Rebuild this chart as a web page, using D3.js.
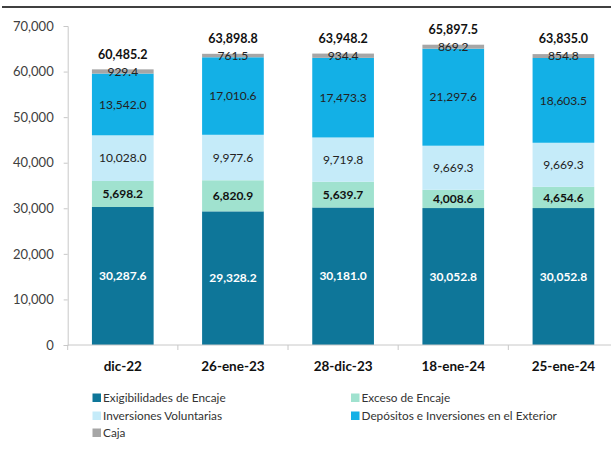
<!DOCTYPE html>
<html>
<head>
<meta charset="utf-8">
<script src="https://cdn.jsdelivr.net/npm/d3@7"></script>
<style>
  html, body { margin: 0; padding: 0; background: #fff; }
  svg { display: block; font-family: Lato, "Open Sans", sans-serif; }
</style>
</head>
<body>
<div id="chart"></div>
<script>
var categories = ['dic-22', '26-ene-23', '28-dic-23', '18-ene-24', '25-ene-24'];
var seriesNames = ['Exigibilidades de Encaje', 'Exceso de Encaje', 'Inversiones Voluntarias',
  'Depósitos e Inversiones en el Exterior', 'Caja'];
var exigibilidades = [30287.6, 29328.2, 30181.0, 30052.8, 30052.8];
var exceso = [5698.2, 6820.9, 5639.7, 4008.6, 4654.6];
var inversiones = [10028.0, 9977.6, 9719.8, 9669.3, 9669.3];
var depositos = [13542.0, 17010.6, 17473.3, 21297.6, 18603.5];
var caja = [929.4, 761.5, 934.4, 869.2, 854.8];
var totals = [60485.2, 63898.8, 63948.2, 65897.5, 63835.0];
var yTicks = [0, 10000, 20000, 30000, 40000, 50000, 60000, 70000];

var colors = ['#0E7699', '#A0E2CF', '#C5EBF9', '#13B0E6', '#A6A6A6'];
var labelFill = ['#fff', '#111', '#222', '#222', '#222'];
var labelWeight = ['bold', 'bold', 'normal', 'normal', 'normal'];

var W = 611, H = 460;
var svg = d3.select('#chart').append('svg').attr('width', W).attr('height', H);

// top rule
svg.append('line').attr('x1', 2).attr('x2', W).attr('y1', 7).attr('y2', 7)
  .attr('stroke', '#000').attr('stroke-width', 1.5);

var x = d3.scaleBand().domain(categories).range([67.7, 618.5]).paddingInner(0.44).paddingOuter(0.22);
var y = d3.scaleLinear().domain([0, 70000]).range([345, 26]);

var rows = categories.map(function (c, i) {
  return { cat: c, s0: exigibilidades[i], s1: exceso[i], s2: inversiones[i], s3: depositos[i], s4: caja[i] };
});
var stack = d3.stack().keys(['s0', 's1', 's2', 's3', 's4'])(rows);

var fmt = d3.format(',.1f');

// y axis
var yAxis = svg.append('g').attr('transform', 'translate(67.7,0)')
  .call(d3.axisLeft(y).tickValues(yTicks).tickSize(4).tickPadding(10).tickFormat(d3.format(',')));
yAxis.select('.domain').attr('stroke', '#C8C8C8');
yAxis.selectAll('.tick line').attr('stroke', '#C8C8C8');
yAxis.selectAll('.tick text').attr('font-size', 13).attr('fill', '#404040')
  .attr('font-family', 'Lato, sans-serif');

// bars
stack.forEach(function (layer, k) {
  var g = svg.append('g');
  g.selectAll('rect').data(layer).join('rect')
    .attr('x', function (d) { return x(d.data.cat); })
    .attr('width', x.bandwidth())
    .attr('y', function (d) { return y(d[1]); })
    .attr('height', function (d) { return y(d[0]) - y(d[1]); })
    .attr('fill', colors[k]);
  g.selectAll('text').data(layer).join('text')
    .attr('x', function (d) { return x(d.data.cat) + x.bandwidth() / 2; })
    .attr('y', function (d) { return (y(d[0]) + y(d[1])) / 2; })
    .attr('dy', '0.35em')
    .attr('text-anchor', 'middle')
    .attr('font-size', 12)
    .attr('font-weight', labelWeight[k])
    .attr('fill', labelFill[k])
    .text(function (d) { return fmt(d[1] - d[0]); });
});

// totals
svg.append('g').selectAll('text').data(categories).join('text')
  .attr('x', function (d) { return x(d) + x.bandwidth() / 2; })
  .attr('y', function (d, i) { return y(totals[i]) - 15; })
  .attr('dy', '0.35em')
  .attr('text-anchor', 'middle')
  .attr('font-size', 12.5)
  .attr('font-weight', 'bold')
  .attr('fill', '#111')
  .text(function (d, i) { return fmt(totals[i]); });

// x axis
var xAxis = svg.append('g').attr('transform', 'translate(0,345)');
xAxis.append('line').attr('x1', 67.7).attr('x2', W).attr('stroke', '#C8C8C8');
var edges = categories.map(function (c) { return x(c) - x.step() * x.paddingInner() / 2; });
xAxis.selectAll('.edge').data(edges).join('line')
  .attr('x1', function (d) { return d; }).attr('x2', function (d) { return d; })
  .attr('y1', 0).attr('y2', 5).attr('stroke', '#C8C8C8');
xAxis.selectAll('text').data(categories).join('text')
  .attr('x', function (d) { return x(d) + x.bandwidth() / 2; })
  .attr('y', 21)
  .attr('dy', '0.35em')
  .attr('text-anchor', 'middle')
  .attr('font-size', 13.5)
  .attr('font-weight', 'bold')
  .attr('fill', '#111')
  .text(function (d) { return d; });

// legend
var legendPos = [[92.5, 398], [351, 398], [92.5, 416], [351, 416], [92.5, 433]];
var legend = svg.append('g').selectAll('g').data(seriesNames).join('g')
  .attr('transform', function (d, i) { return 'translate(' + legendPos[i][0] + ',' + legendPos[i][1] + ')'; });
legend.append('rect').attr('x', 0).attr('y', -4.5).attr('width', 8.5).attr('height', 8.5)
  .attr('fill', function (d, i) { return colors[i]; });
legend.append('text').attr('x', 10.5).attr('dy', '0.35em')
  .attr('font-size', 11.8).attr('fill', '#333')
  .text(function (d) { return d; });
</script>
</body>
</html>
